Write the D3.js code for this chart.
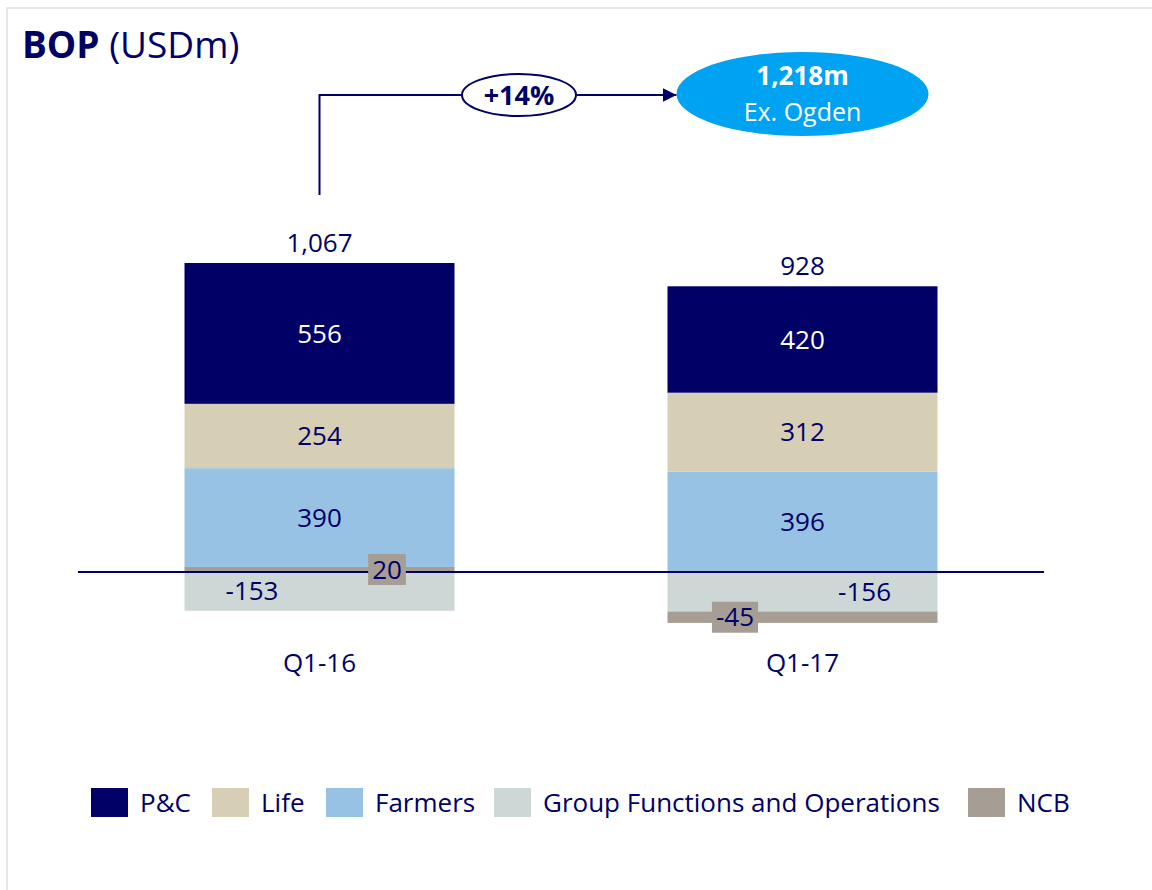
<!DOCTYPE html>
<html>
<head>
<meta charset="utf-8">
<script src="https://cdn.jsdelivr.net/npm/d3@7"></script>
<style>
  body { margin: 0; background: #fff; }
  svg { display: block; font-family: "Open Sans", "Noto Sans", sans-serif; }
</style>
</head>
<body>
<div id="chart"></div>
<script>
// data
var categories = ["Q1-16", "Q1-17"];
var seriesNames = ["P&C", "Life", "Farmers", "Group Functions and Operations", "NCB"];
var pcValues = [556, 420];
var lifeValues = [254, 312];
var farmersValues = [390, 396];
var groupValues = [-153, -156];
var ncbValues = [20, -45];
var totals = [1067, 928];
var growthLabel = "+14%";
var calloutValue = "1,218m";
var calloutNote = "Ex. Ogden";

var colors = ["#000066", "#d6cfb6", "#98c2e3", "#cdd8d6", "#a69d94"];
var navy = "#000066";

var w = 1152, h = 890;

var svg = d3.select("#chart").append("svg")
  .attr("width", w)
  .attr("height", h);

// frame
svg.append("rect")
  .attr("x", 7).attr("y", 8)
  .attr("width", w + 20).attr("height", h + 20)
  .attr("fill", "none")
  .attr("stroke", "#e6e9e9")
  .attr("stroke-width", 2);

// title
var title = svg.append("text").attr("x", 22).attr("y", 58)
  .attr("fill", navy).style("font-size", "37px");
title.append("tspan").attr("font-weight", "bold").text("BOP");
title.append("tspan").text(" (USDm)");

var x = d3.scaleBand()
  .domain(categories)
  .range([78, 1044])
  .paddingInner(0.441)
  .paddingOuter(0.2205);

var k = 309 / 1220;
var y = d3.scaleLinear()
  .domain([-250, 1400])
  .range([572 + 250 * k, 572 - 1400 * k]);

var seriesValues = [pcValues, lifeValues, farmersValues, groupValues, ncbValues];

// stacking order away from zero line (series index)
var posOrder = [4, 3, 2, 1, 0];
var negOrder = [3, 4, 2, 1, 0];

var segs = [];
categories.forEach(function(c, ci){
  var pos = 0, neg = 0;
  posOrder.forEach(function(s){
    var v = seriesValues[s][ci];
    if (v >= 0) { segs.push({cat: c, ci: ci, s: s, v: v, y0: pos, y1: pos + v}); pos += v; }
  });
  negOrder.forEach(function(s){
    var v = seriesValues[s][ci];
    if (v < 0) { segs.push({cat: c, ci: ci, s: s, v: v, y0: neg, y1: neg + v}); neg += v; }
  });
});

svg.selectAll("rect.seg")
  .data(segs)
  .enter()
  .append("rect")
  .attr("class", "seg")
  .attr("x", function(d){ return x(d.cat); })
  .attr("width", x.bandwidth())
  .attr("y", function(d){ return y(Math.max(d.y0, d.y1)); })
  .attr("height", function(d){ return Math.abs(y(d.y0) - y(d.y1)); })
  .attr("fill", function(d){ return colors[d.s]; });

// zero line
svg.append("line")
  .attr("x1", 78).attr("x2", 1044)
  .attr("y1", y(0)).attr("y2", y(0))
  .attr("stroke", navy).attr("stroke-width", 2);

// label horizontal placement for thin segments (fraction of bar width)
var labelFrac = {
  "Q1-16|3": 0.25, "Q1-16|4": 0.75,
  "Q1-17|3": 0.73, "Q1-17|4": 0.25
};

segs.forEach(function(d){
  var frac = labelFrac[d.cat + "|" + d.s];
  var cx = x(d.cat) + x.bandwidth() * (frac === undefined ? 0.5 : frac);
  var cy = (y(d.y0) + y(d.y1)) / 2;
  var g = svg.append("g");
  var t = g.append("text")
    .attr("x", cx).attr("y", cy)
    .attr("text-anchor", "middle")
    .attr("dy", "0.35em")
    .attr("fill", d.s === 0 ? "#fff" : navy)
    .style("font-size", "26px")
    .text(d.v);
  if (d.s === 4) {
    var bb = t.node().getBBox();
    g.insert("rect", "text")
      .attr("x", bb.x - 4).attr("y", cy - 15.5)
      .attr("width", bb.width + 8).attr("height", 31)
      .attr("fill", colors[4]);
  }
});

// totals
svg.selectAll("text.total")
  .data(categories)
  .enter()
  .append("text")
  .attr("class", "total")
  .attr("x", function(d){ return x(d) + x.bandwidth() / 2; })
  .attr("y", function(d, i){
    var pos = 0;
    seriesValues.forEach(function(sv){ if (sv[i] > 0) pos += sv[i]; });
    return y(pos) - 11;
  })
  .attr("text-anchor", "middle")
  .attr("fill", navy)
  .style("font-size", "26px")
  .text(function(d, i){ return d3.format(",")(totals[i]); });

// category labels
svg.selectAll("text.cat")
  .data(categories)
  .enter()
  .append("text")
  .attr("class", "cat")
  .attr("x", function(d){ return x(d) + x.bandwidth() / 2; })
  .attr("y", 672)
  .attr("text-anchor", "middle")
  .attr("fill", navy)
  .style("font-size", "26px")
  .text(function(d){ return d; });

// growth arrow
var ax = x(categories[0]) + x.bandwidth() / 2;
var bx = x(categories[1]) + x.bandwidth() / 2;
var ay = 95;

svg.append("defs").append("marker")
  .attr("id", "arrow")
  .attr("viewBox", "0 0 10 10")
  .attr("refX", 10).attr("refY", 5)
  .attr("markerWidth", 7).attr("markerHeight", 7)
  .attr("markerUnits", "strokeWidth")
  .attr("orient", "auto")
  .append("path").attr("d", "M0,0L10,5L0,10Z").attr("fill", navy);

svg.append("path")
  .attr("d", "M" + ax + ",195V" + ay + "H" + (bx - 126))
  .attr("fill", "none")
  .attr("stroke", navy).attr("stroke-width", 2)
  .attr("marker-end", "url(#arrow)");

svg.append("ellipse")
  .attr("cx", 519).attr("cy", ay)
  .attr("rx", 57).attr("ry", 21)
  .attr("fill", "#fff").attr("stroke", navy).attr("stroke-width", 2);

svg.append("text")
  .attr("x", 519).attr("y", ay).attr("dy", "0.36em")
  .attr("text-anchor", "middle")
  .attr("fill", navy).attr("font-weight", "bold")
  .style("font-size", "27px")
  .text(growthLabel);

svg.append("ellipse")
  .attr("cx", bx).attr("cy", 94)
  .attr("rx", 126).attr("ry", 42)
  .attr("fill", "#00a2f2");

svg.append("text")
  .attr("x", bx).attr("y", 85)
  .attr("text-anchor", "middle")
  .attr("fill", "#fff").attr("font-weight", "bold")
  .style("font-size", "26px")
  .text(calloutValue);

svg.append("text")
  .attr("x", bx).attr("y", 121)
  .attr("text-anchor", "middle")
  .attr("fill", "#fff")
  .style("font-size", "25px")
  .text(calloutNote);

// legend
var legendX = [91, 212, 326, 494, 968];
var legend = svg.selectAll("g.legend")
  .data(seriesNames)
  .enter()
  .append("g")
  .attr("class", "legend")
  .attr("transform", function(d, i){ return "translate(" + legendX[i] + ",788)"; });

legend.append("rect")
  .attr("width", 37).attr("height", 29)
  .attr("fill", function(d, i){ return colors[i]; });

legend.append("text")
  .attr("x", 49).attr("y", 14.5).attr("dy", "0.35em")
  .attr("fill", navy)
  .style("font-size", "26px")
  .text(function(d){ return d; });
</script>
</body>
</html>
